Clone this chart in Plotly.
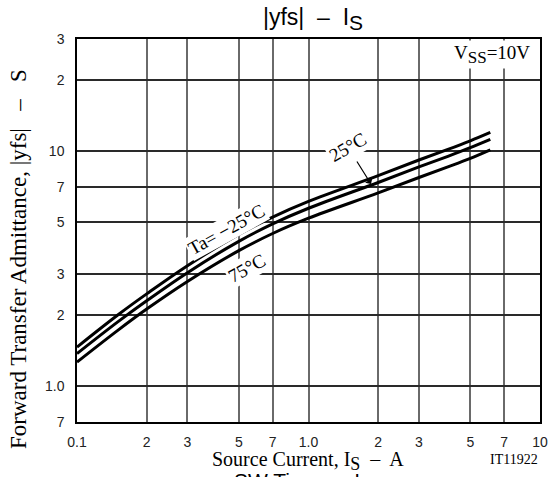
import plotly.graph_objects as go

# ---- data ----
source_current = [0.1, 0.15, 0.2, 0.3, 0.5, 0.7, 1.0, 2.0, 3.0, 4.0, 5.0, 6.1]
yfs_m25 = [1.46, 2.0, 2.46, 3.245, 4.41, 5.23, 6.1, 7.85, 9.15, 10.15, 11.05, 12.0]
yfs_25 = [1.37, 1.87, 2.30, 3.03, 4.12, 4.89, 5.70, 7.34, 8.55, 9.49, 10.33, 11.2]
yfs_75 = [1.26, 1.72, 2.12, 2.78, 3.76, 4.45, 5.17, 6.63, 7.71, 8.55, 9.29, 10.1]

x_tickvals = [0.1, 0.2, 0.3, 0.5, 0.7, 1.0, 2, 3, 5, 7, 10]
x_ticktext = ["0.1", "2", "3", "5", "7", "1.0", "2", "3", "5", "7", "10"]
y_tickvals = [0.7, 1.0, 2, 3, 5, 7, 10, 20, 30]
y_ticktext = ["7", "1.0", "2", "3", "5", "7", "10", "2", "3"]

W, H = 549, 477
# plot area in page pixels
L, R, T, B = 77, 540, 39, 422


def px(x):
    return (x - L) / (R - L)


def py(y):
    return (B - y) / (B - T)


SERIF = "Liberation Serif, Times New Roman, serif"
SANS = "Liberation Sans, Arial, sans-serif"

fig = go.Figure()
for ys in (yfs_m25, yfs_25, yfs_75):
    fig.add_trace(go.Scatter(
        x=source_current, y=ys, mode="lines",
        line=dict(color="black", width=3, shape="spline", smoothing=1.0),
        showlegend=False, hoverinfo="skip"))

fig.update_layout(
    width=W, height=H,
    margin=dict(l=L, r=W - R, t=T, b=H - B, autoexpand=False),
    paper_bgcolor="white", plot_bgcolor="white",
    xaxis=dict(type="log", range=[-1, 1], tickvals=x_tickvals, ticktext=x_ticktext,
               showgrid=True, gridcolor="#6a6a6a", gridwidth=1.5, automargin=False,
               showline=True, linecolor="black", linewidth=1.5, mirror=True,
               ticks="", ticklabelstandoff=6,
               tickfont=dict(family=SANS, size=14, color="#222"), zeroline=False),
    yaxis=dict(type="log", range=[-0.15490196, 1.47712125], tickvals=y_tickvals,
               ticktext=y_ticktext, automargin=False,
               showgrid=True, gridcolor="#2a2a2a", gridwidth=1.5,
               showline=True, linecolor="black", linewidth=1.5, mirror=True,
               ticks="", ticklabelstandoff=8,
               tickfont=dict(family=SANS, size=14, color="#222"), zeroline=False),
)


def label(x, y, text, size, family=SERIF, angle=0, bg=None, xanchor="center"):
    d = dict(x=px(x), y=py(y), xref="paper", yref="paper", text=text,
             showarrow=False, textangle=angle, xanchor=xanchor, yanchor="middle",
             font=dict(family=family, size=size, color="black"))
    if bg:
        d["bgcolor"] = bg
    return d


ann = [
    label(313, 19, "|yfs|  –  I<sub><span style='font-size:21px'>S</span></sub>", 23, SANS),
    label(308, 461, "Source Current, I<sub><span style='font-size:18px'>S</span></sub>  –  A", 20),
    label(18, 259, "Forward Transfer Admittance, |yfs|   –   S", 23, angle=-90),
    label(540, 459, "IT11922", 14, xanchor="right"),
    label(302, 482, "SW Time  –  I<sub>D</sub>", 21, SANS),
    label(492, 55, "V<sub><span style='font-size:17px'>SS</span></sub>=10V", 19, bg="white"),
    label(347, 147, "25°C", 19, angle=-30, bg="white"),
    label(226, 229, "Ta= −25°C", 19, angle=-29, bg="white"),
    label(246, 268, "75°C", 19, angle=-29, bg="white"),
    dict(x=px(371), y=py(184), xref="paper", yref="paper",
         ax=-15, ay=-24, text="", showarrow=True, arrowhead=1,
         arrowsize=1.2, arrowwidth=1.2, arrowcolor="black"),
]

fig.update_layout(annotations=ann)
fig.write_html("out.html", config={"displayModeBar": False},
               post_script="document.body.style.margin='0';document.body.style.overflow='hidden';")
